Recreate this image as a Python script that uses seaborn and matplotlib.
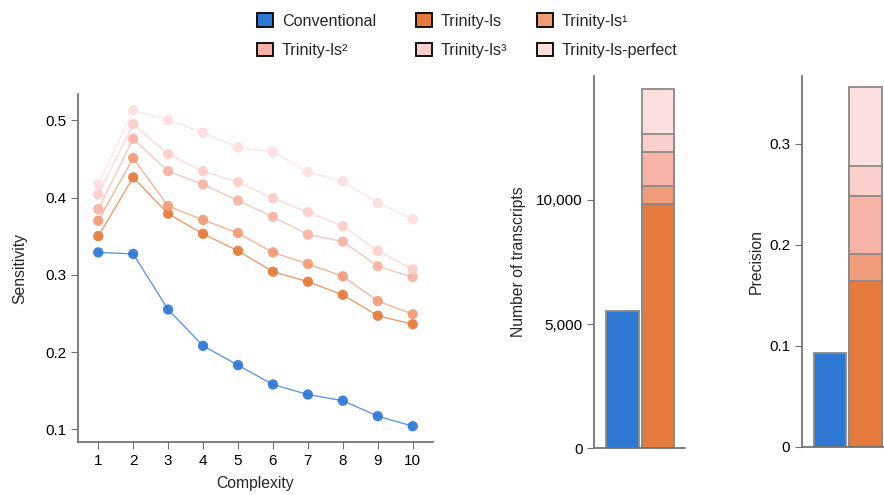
import pandas as pd
import numpy as np
import matplotlib
matplotlib.use("Agg")
import matplotlib.pyplot as plt
from matplotlib.patches import Patch
import seaborn as sns

# ── Setup ──────────────────────────────────────────────────────────────────────

sns.set_theme(style="ticks")
plt.rcParams["font.family"] = ["Liberation Sans", "DejaVu Sans"]
plt.rcParams["axes.edgecolor"] = "#6e6e6e"
plt.rcParams["xtick.color"] = "#6e6e6e"
plt.rcParams["ytick.color"] = "#6e6e6e"
plt.rcParams["xtick.labelcolor"] = "black"
plt.rcParams["ytick.labelcolor"] = "black"

# ── Data ───────────────────────────────────────────────────────────────────────

methods = ["Conventional", "Trinity-ls", "Trinity-ls¹", "Trinity-ls²",
           "Trinity-ls³", "Trinity-ls-perfect"]
colors = ["#2E77D2", "#E47B3C", "#F09B79", "#F7B3A5", "#FBCFCB", "#FDDEDF"]
palette = dict(zip(methods, colors))

complexity = [1, 2, 3, 4, 5, 6, 7, 8, 9, 10]
sens_conventional = [0.329, 0.327, 0.255, 0.208, 0.183, 0.158, 0.145, 0.137, 0.117, 0.104]
sens_ls = [0.350, 0.426, 0.379, 0.353, 0.331, 0.304, 0.291, 0.274, 0.247, 0.236]
sens_ls1 = [0.370, 0.451, 0.389, 0.371, 0.354, 0.329, 0.314, 0.298, 0.266, 0.249]
sens_ls2 = [0.385, 0.476, 0.434, 0.417, 0.396, 0.375, 0.352, 0.343, 0.311, 0.297]
sens_ls3 = [0.404, 0.495, 0.456, 0.434, 0.420, 0.399, 0.381, 0.363, 0.331, 0.307]
sens_perfect = [0.417, 0.513, 0.500, 0.484, 0.465, 0.459, 0.433, 0.421, 0.393, 0.372]

# cumulative totals (each Trinity variant stacks on top of the previous one)
n_transcripts = [5530, 9826, 10564, 11933, 12658, 14456]
precision = [0.0926, 0.1644, 0.1909, 0.2481, 0.2779, 0.3560]

# ── Long-format tables ─────────────────────────────────────────────────────────

sens = [sens_conventional, sens_ls, sens_ls1, sens_ls2, sens_ls3, sens_perfect]
df_sens = pd.DataFrame({
    "method": np.repeat(methods, len(complexity)),
    "complexity": complexity * len(methods),
    "sensitivity": np.concatenate(sens),
})

df_bar = pd.DataFrame({
    "method": methods,
    "group": ["A"] + ["B"] * 5,
    "transcripts": n_transcripts,
    "precision": precision,
})

# ── Figure ─────────────────────────────────────────────────────────────────────

fig = plt.figure(figsize=(8.84, 4.95), dpi=100)
ax1 = fig.add_axes([0.0882, 0.1065, 0.4016, 0.7036])
ax2 = fig.add_axes([0.6723, 0.0943, 0.1026, 0.7521])
ax3 = fig.add_axes([0.9072, 0.0976, 0.1026, 0.7489])

# ── 1. Sensitivity vs complexity ──────────────────────────────────────────────

draw_order = methods[::-1]
sns.lineplot(data=df_sens, x="complexity", y="sensitivity", hue="method",
             hue_order=draw_order, palette=palette, linewidth=1.0, alpha=0.75,
             legend=False, ax=ax1)
sns.scatterplot(data=df_sens, x="complexity", y="sensitivity", hue="method",
                hue_order=draw_order, palette=palette, s=55, linewidth=0,
                alpha=0.92, legend=False, ax=ax1)
ax1.set_xlim(0.42, 10.58)
ax1.set_ylim(0.0832, 0.534)
ax1.set_xticks(complexity)
ax1.set_yticks([0.1, 0.2, 0.3, 0.4, 0.5])
ax1.set_yticklabels(["0.1", "0.2", "0.3", "0.4", "0.5"])
ax1.set_xlabel("Complexity", fontsize=11.3, labelpad=6)
ax1.set_ylabel("Sensitivity", fontsize=11.3, labelpad=13)
ax1.tick_params(labelsize=11, length=5, width=0.8)
sns.despine(ax=ax1)

# ── 2./3. Transcripts and precision (stacked, tallest drawn first) ────────────

for ax, col, top, ticks, labels, pad, label in [
    (ax2, "transcripts", 14456 * 1.037, [0, 5000, 10000], ["0", "5,000", "10,000"], 7,
     "Number of transcripts"),
    (ax3, "precision", 0.356 * 1.031, [0, 0.1, 0.2, 0.3], ["0", "0.1", "0.2", "0.3"], 4,
     "Precision"),
]:
    sns.barplot(data=df_bar, x="group", y=col, hue="method", hue_order=draw_order,
                palette=palette, dodge=False, width=0.91, order=["A", "B"],
                edgecolor="#8a8a8a", linewidth=1.3, saturation=1, legend=False, ax=ax)
    ax.set_xlim(-0.80, 1.77)
    ax.set_ylim(0, top)
    ax.set_yticks(ticks)
    ax.set_yticklabels(labels)
    ax.set_xticks([])
    ax.set_xlabel("")
    ax.set_ylabel(label, fontsize=11.3, labelpad=pad)
    ax.tick_params(labelsize=11, length=5, width=0.8)
    sns.despine(ax=ax)

# ── Legend — one single-column legend per column ──────────────────────────────

columns = [(0, 3, 0.2907), (1, 4, 0.4706), (2, 5, 0.6075)]
for i, j, x in columns:
    hs = [Patch(facecolor=palette[methods[k]], edgecolor="black", linewidth=1.3)
          for k in (i, j)]
    fig.legend(hs, [methods[i], methods[j]],
               loc="upper left", bbox_to_anchor=(x, 0.973), frameon=False,
               fontsize=11.6, handlelength=1.0, handleheight=0.9,
               handletextpad=0.55, labelspacing=0.9, borderpad=0,
               borderaxespad=0)

fig.savefig("out.png", dpi=100)
plt.close(fig)
